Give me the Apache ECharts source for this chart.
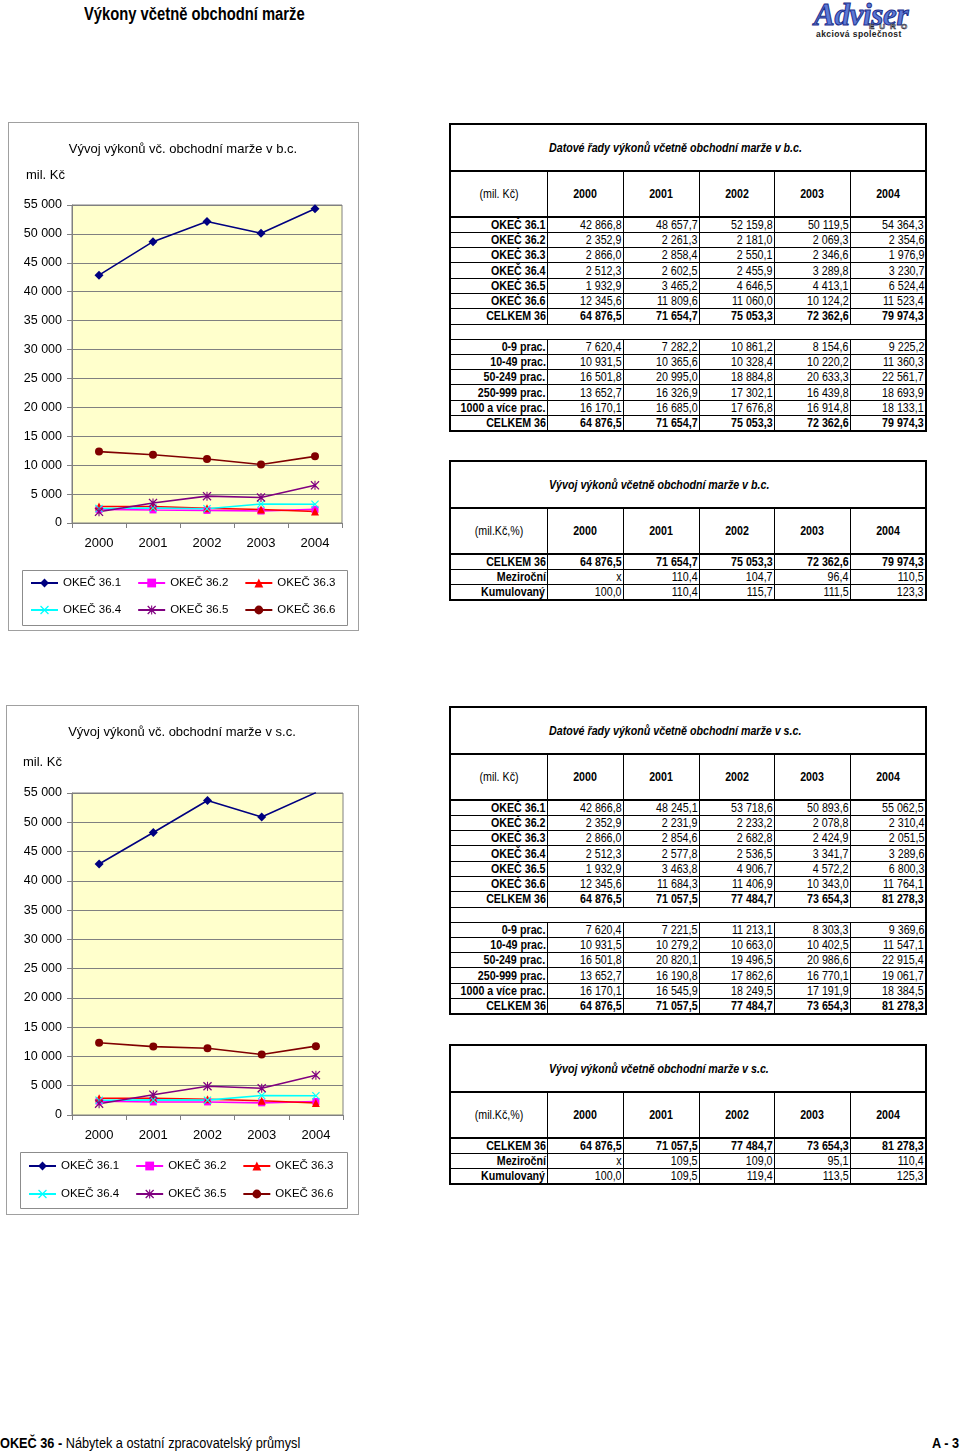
<!DOCTYPE html>
<html><head><meta charset="utf-8">
<script src="https://cdn.jsdelivr.net/npm/echarts@6/dist/echarts.min.js"></script>
<style>
body{margin:0;background:#fff;}
#page{position:relative;width:960px;height:1452px;overflow:hidden;font-family:"Liberation Sans",Arial,sans-serif;color:#000;background:#fff;}
.abs{position:absolute;}
.nar{position:absolute;white-space:nowrap;transform:scaleX(.82);transform-origin:0 50%;}
.frame{position:absolute;border:1px solid #a0a0a0;box-sizing:border-box;}
table.dt{position:absolute;border-collapse:collapse;table-layout:fixed;border:2px solid #000;font-size:13px;}
table.dt td{padding:0;border:1px solid #000;position:relative;}
table.dt td.ttl{border-bottom:2px solid #000;}
table.dt tr.hdr td{border-bottom:2px solid #000;}
table.dt td.blank{border-left:none;border-right:none;}
.n{position:absolute;white-space:nowrap;top:50%;line-height:14px;}
.r{right:1px;transform:translateY(-50%) scaleX(.82);transform-origin:100% 50%;}
.c{left:50%;transform:translate(-50%,-50%) scaleX(.82);transform-origin:50% 50%;}
.l{left:98px;transform:translateY(-50%) scaleX(.82);transform-origin:0 50%;}
.b{font-weight:bold;}
.bi{font-weight:bold;font-style:italic;}
</style></head>
<body><div id="page">
<div class="nar" style="left:84px;top:4px;font-weight:bold;font-size:18px;">Výkony včetně obchodní marže</div>
<div class="abs" style="left:813px;top:0px;width:116px;height:40px;">
  <div style="position:absolute;left:1px;top:-3px;font:italic bold 31px 'Liberation Serif',serif;color:#5b78d6;-webkit-text-stroke:1px #1d2f8a;letter-spacing:-0.3px;">Adviser</div>
  <div style="position:absolute;left:56px;top:22px;font:bold 8px 'Liberation Sans',sans-serif;letter-spacing:5px;color:#fff;-webkit-text-stroke:0.6px #223;">EURO</div>
  <div style="position:absolute;left:3px;top:29px;font:bold 8.5px 'Liberation Sans',sans-serif;letter-spacing:0.4px;color:#222;">akciová společnost</div>
</div>

<div class="frame" style="left:8px;top:122px;width:351px;height:509px;"></div>
<div id="c1" class="abs" style="left:8px;top:122px;width:350px;height:508px;"></div>
<div class="frame" style="left:6px;top:705px;width:353px;height:510px;"></div>
<div id="c2" class="abs" style="left:6px;top:705px;width:352px;height:509px;"></div>

<div id="t1"></div><div id="t2"></div><div id="t3"></div><div id="t4"></div>

<div class="nar" style="left:0px;top:1434px;font-size:15.5px;"><b>OKEČ 36 -</b> Nábytek a ostatní zpracovatelský průmysl</div>
<div class="nar" style="left:932px;top:1434px;font-size:15.5px;font-weight:bold;">A - 3</div>
</div>
<script>
// ---------- DATA ----------
const years = ['2000','2001','2002','2003','2004'];
const okecNames = ['OKEČ 36.1','OKEČ 36.2','OKEČ 36.3','OKEČ 36.4','OKEČ 36.5','OKEČ 36.6'];
const sizeNames = ['0-9 prac.','10-49 prac.','50-249 prac.','250-999 prac.','1000 a více prac.'];
const yTicks = [0,5000,10000,15000,20000,25000,30000,35000,40000,45000,50000,55000];

// b.c.
const bc_361 = [42866.8, 48657.7, 52159.8, 50119.5, 54364.3];
const bc_362 = [2352.9, 2261.3, 2181.0, 2069.3, 2354.6];
const bc_363 = [2866.0, 2858.4, 2550.1, 2346.6, 1976.9];
const bc_364 = [2512.3, 2602.5, 2455.9, 3289.8, 3230.7];
const bc_365 = [1932.9, 3465.2, 4646.5, 4413.1, 6524.4];
const bc_366 = [12345.6, 11809.6, 11060.0, 10124.2, 11523.4];
const bc_total = [64876.5, 71654.7, 75053.3, 72362.6, 79974.3];
const bc_s09 = [7620.4, 7282.2, 10861.2, 8154.6, 9225.2];
const bc_s1049 = [10931.5, 10365.6, 10328.4, 10220.2, 11360.3];
const bc_s50249 = [16501.8, 20995.0, 18884.8, 20633.3, 22561.7];
const bc_s250999 = [13652.7, 16326.9, 17302.1, 16439.8, 18693.9];
const bc_s1000 = [16170.1, 16685.0, 17676.8, 16914.8, 18133.1];
const bc_yoy = ['x', 110.4, 104.7, 96.4, 110.5];
const bc_cum = [100.0, 110.4, 115.7, 111.5, 123.3];

// s.c.
const sc_361 = [42866.8, 48245.1, 53718.6, 50893.6, 55062.5];
const sc_362 = [2352.9, 2231.9, 2233.2, 2078.8, 2310.4];
const sc_363 = [2866.0, 2854.6, 2682.8, 2424.9, 2051.5];
const sc_364 = [2512.3, 2577.8, 2536.5, 3341.7, 3289.6];
const sc_365 = [1932.9, 3463.8, 4906.7, 4572.2, 6800.3];
const sc_366 = [12345.6, 11684.3, 11406.9, 10343.0, 11764.1];
const sc_total = [64876.5, 71057.5, 77484.7, 73654.3, 81278.3];
const sc_s09 = [7620.4, 7221.5, 11213.1, 8303.3, 9369.6];
const sc_s1049 = [10931.5, 10279.2, 10663.0, 10402.5, 11547.1];
const sc_s50249 = [16501.8, 20820.1, 19496.5, 20986.6, 22915.4];
const sc_s250999 = [13652.7, 16190.8, 17862.6, 16770.1, 19061.7];
const sc_s1000 = [16170.1, 16545.9, 18249.5, 17191.9, 18384.5];
const sc_yoy = ['x', 109.5, 109.0, 95.1, 110.4];
const sc_cum = [100.0, 109.5, 119.4, 113.5, 125.3];

// ---------- helpers ----------
function grp(s){ return s.replace(/\B(?=(\d{3})+(?!\d))/g,' '); }
function fmt(v){ if(typeof v==='string') return v; const p=v.toFixed(1).split('.'); return grp(p[0])+','+p[1]; }
function sp(txt,cls){ return '<span class="n '+cls+'">'+txt+'</span>'; }

function buildTable(id, top, title, unit, sections){
  const cols=[97,76,76,75,76,76];
  let h='<table class="dt" style="left:449px;top:'+top+'px;width:476px;"><colgroup>';
  cols.forEach(w=>h+='<col style="width:'+w+'px">');
  h+='</colgroup>';
  h+='<tr style="height:47px"><td class="ttl" colspan="6">'+sp(title,'l bi')+'</td></tr>';
  h+='<tr class="hdr" style="height:46px"><td>'+sp(unit,'c')+'</td>'+years.map(y=>'<td>'+sp(y,'c b')+'</td>').join('')+'</tr>';
  sections.forEach((sec,si)=>{
    if(si>0) h+='<tr style="height:15px"><td class="blank" colspan="6"></td></tr>';
    sec.forEach(r=>{
      h+='<tr style="height:15.3px"><td>'+sp(r.label,'r b')+'</td>'+r.vals.map(v=>'<td>'+sp(fmt(v),'r'+(r.tot?' b':''))+'</td>').join('')+'</tr>';
    });
  });
  h+='</table>';
  document.getElementById(id).innerHTML=h;
}

buildTable('t1',123,'Datové řady výkonů včetně obchodní marže v b.c.','(mil. Kč)',[
  [{label:okecNames[0],vals:bc_361},{label:okecNames[1],vals:bc_362},{label:okecNames[2],vals:bc_363},
   {label:okecNames[3],vals:bc_364},{label:okecNames[4],vals:bc_365},{label:okecNames[5],vals:bc_366},
   {label:'CELKEM 36',vals:bc_total,tot:true}],
  [{label:sizeNames[0],vals:bc_s09},{label:sizeNames[1],vals:bc_s1049},{label:sizeNames[2],vals:bc_s50249},
   {label:sizeNames[3],vals:bc_s250999},{label:sizeNames[4],vals:bc_s1000},{label:'CELKEM 36',vals:bc_total,tot:true}]
]);
buildTable('t2',460,'Vývoj výkonů včetně obchodní marže v b.c.','(mil.Kč,%)',[
  [{label:'CELKEM 36',vals:bc_total,tot:true},{label:'Meziroční',vals:bc_yoy},{label:'Kumulovaný',vals:bc_cum}]
]);
buildTable('t3',706,'Datové řady výkonů včetně obchodní marže v s.c.','(mil. Kč)',[
  [{label:okecNames[0],vals:sc_361},{label:okecNames[1],vals:sc_362},{label:okecNames[2],vals:sc_363},
   {label:okecNames[3],vals:sc_364},{label:okecNames[4],vals:sc_365},{label:okecNames[5],vals:sc_366},
   {label:'CELKEM 36',vals:sc_total,tot:true}],
  [{label:sizeNames[0],vals:sc_s09},{label:sizeNames[1],vals:sc_s1049},{label:sizeNames[2],vals:sc_s50249},
   {label:sizeNames[3],vals:sc_s250999},{label:sizeNames[4],vals:sc_s1000},{label:'CELKEM 36',vals:sc_total,tot:true}]
]);
buildTable('t4',1044,'Vývoj výkonů včetně obchodní marže v s.c.','(mil.Kč,%)',[
  [{label:'CELKEM 36',vals:sc_total,tot:true},{label:'Meziroční',vals:sc_yoy},{label:'Kumulovaný',vals:sc_cum}]
]);

// ---------- charts ----------
const X_PATH='path://M0,1 L1,0 L5,4 L9,0 L10,1 L6,5 L10,9 L9,10 L5,6 L1,10 L0,9 L4,5 Z';
const STAR_PATH='path://M0,1 L1,0 L5,4 L9,0 L10,1 L6,5 L10,9 L9,10 L5,6 L1,10 L0,9 L4,5 Z M4.4,0 L5.6,0 L5.6,10 L4.4,10 Z';
const styles=[
  {color:'#000080',symbol:'diamond',size:9},
  {color:'#FF00FF',symbol:'rect',size:7},
  {color:'#FF0000',symbol:'triangle',size:8},
  {color:'#00FFFF',symbol:X_PATH,size:8},
  {color:'#800080',symbol:STAR_PATH,size:9},
  {color:'#800000',symbol:'circle',size:8}
];
const FONT='"Liberation Sans", Arial, sans-serif';

function makeChart(el, title, seriesData, g){
  const chart=echarts.init(document.getElementById(el),null,{renderer:'canvas'});
  const legendCommon={orient:'horizontal',padding:0,itemWidth:27,itemHeight:11,itemGap:16,
    textStyle:{fontFamily:FONT,fontSize:11.5,color:'#000'},selectedMode:false};
  chart.setOption({
    animation:false,
    backgroundColor:'transparent',
    title:{text:title,left:'center',top:g.titleTop,textStyle:{fontFamily:FONT,fontSize:13,fontWeight:'normal',color:'#000'}},
    grid:{left:g.left,top:g.top,width:g.width,height:g.height,show:true,backgroundColor:'#FFFFCC',borderColor:'#808080',borderWidth:1,containLabel:false},
    graphic:[
      {type:'text',left:g.unitX,top:g.unitY,style:{text:'mil. Kč',font:'13px '+FONT,fill:'#000'}},
      {type:'rect',shape:{x:g.legX,y:g.legY,width:g.legW,height:g.legH},style:{fill:'none',stroke:'#8c8c8c',lineWidth:1},silent:true}
    ],
    legend:[
      Object.assign({},legendCommon,{data:okecNames.slice(0,3),left:g.legLeft,top:g.legTop1}),
      Object.assign({},legendCommon,{data:okecNames.slice(3,6),left:g.legLeft,top:g.legTop2})
    ],
    xAxis:{type:'category',data:years,boundaryGap:true,
      axisLine:{show:true,lineStyle:{color:'#808080'}},
      axisTick:{show:true,inside:false,length:5,lineStyle:{color:'#808080'}},
      axisLabel:{fontFamily:FONT,fontSize:13,color:'#000',margin:14},
      splitLine:{show:false}},
    yAxis:{type:'value',min:yTicks[0],max:yTicks[yTicks.length-1],interval:yTicks[1]-yTicks[0],
      axisLine:{show:true,lineStyle:{color:'#808080'}},
      axisTick:{show:true,length:5,lineStyle:{color:'#808080'}},
      axisLabel:{fontFamily:FONT,fontSize:12.5,color:'#000',margin:10,formatter:v=>grp(String(v))},
      splitLine:{show:true,lineStyle:{color:'#808080',width:1}}},
    series:seriesData.map((d,i)=>({
      name:okecNames[i],type:'line',data:d,clip:true,
      symbol:styles[i].symbol,symbolSize:styles[i].size,showAllSymbol:true,
      lineStyle:{color:styles[i].color,width:1.6},
      itemStyle:{color:styles[i].color,borderWidth:0},
      emphasis:{disabled:true}
    }))
  });
}

makeChart('c1','Vývoj výkonů vč. obchodní marže v b.c.',[bc_361,bc_362,bc_363,bc_364,bc_365,bc_366],
  {left:64,top:83,width:270,height:318,titleTop:16,unitX:18,unitY:47,
   legX:14.5,legY:448.5,legW:325,legH:55,legLeft:22,legTop1:455,legTop2:482});
makeChart('c2','Vývoj výkonů vč. obchodní marže v s.c.',[sc_361,sc_362,sc_363,sc_364,sc_365,sc_366],
  {left:66,top:88,width:271,height:322,titleTop:16,unitX:17,unitY:51,
   legX:14.5,legY:447.5,legW:327,legH:56,legLeft:22,legTop1:455,legTop2:483});
</script>
</body></html>
